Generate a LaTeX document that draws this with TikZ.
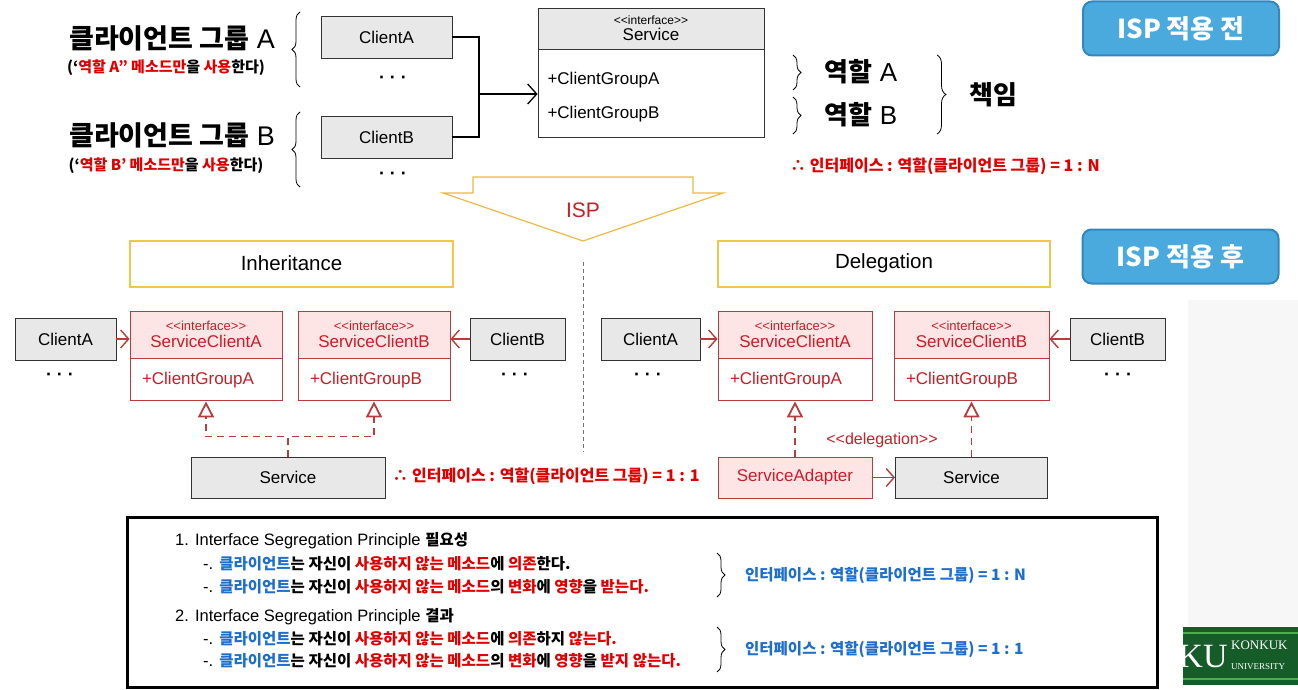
\documentclass[tikz,border=0pt]{standalone}
\usepackage{fontspec}
\setmainfont{Liberation Sans}
\newfontfamily\krfont{Noto Sans CJK KR}
\newfontfamily\logofont{Liberation Serif}
\usepackage{xcolor}
\usetikzlibrary{arrows.meta,positioning,calc,decorations.pathreplacing}

\definecolor{boxgray}{RGB}{232,232,232}
\definecolor{umlred}{RGB}{185,60,60}
\definecolor{umlpink}{RGB}{253,229,229}
\definecolor{umltext}{RGB}{200,30,40}
\definecolor{krred}{RGB}{225,0,0}
\definecolor{krblue}{RGB}{30,110,205}
\definecolor{titleyel}{RGB}{240,200,70}
\definecolor{arrowyel}{RGB}{235,185,70}
\definecolor{tagblue}{RGB}{74,170,222}
\definecolor{tagedge}{RGB}{50,135,190}
\definecolor{kugreen}{RGB}{22,92,40}

\newcommand\fsz[1]{\fontsize{#1}{#1}\selectfont}
\newcommand\kor[1]{{\krfont\bfseries #1}}
\newcommand\rd[1]{\textcolor{krred}{#1}}
\newcommand\bl[1]{\textcolor{krblue}{#1}}
\newcommand\stereo[1]{<{}<#1>{}>}

\tikzset{
    client/.style={draw=black!80, fill=boxgray, minimum height=42, line width=0.9, font=\fsz{17}},
    iface/.style={draw=umlred, fill=umlpink, text=umltext, minimum height=47, inner sep=0, align=center, line width=0.9, font=\fsz{17}},
    ifbody/.style={draw=umlred, fill=white, text=umltext, minimum height=42, inner xsep=12, align=left, line width=0.9, font=\fsz{17}},
    title/.style={draw=titleyel, line width=2, minimum height=46, font=\fsz{20.5}},
    tag/.style={draw=tagedge, fill=tagblue, rounded corners=9, line width=2, text=white, minimum width=196, minimum height=54, font=\krfont\bfseries\fsz{26}},
    dots/.style={font=\bfseries\fsz{18}},
    assoc/.style={draw=umlred, line width=1.4, -{Straight Barb[length=8pt,width=18pt]}},
    realize/.style={draw=umlred, line width=1.8, dash pattern=on 7pt off 5pt, -{Triangle[open,length=16pt,width=16pt,fill=white]}},
    brc/.style={decorate, decoration={brace, amplitude=8pt}, line width=0.8},
    line/.style={anchor=west, inner sep=0, font=\fsz{16.5}},
}

\begin{document}
\begin{tikzpicture}[x=1pt, y=-1pt]
    \useasboundingbox (0,0) rectangle (1298,690);
    % faint background
    \fill[black!3] (1188,300) rectangle (1298,626);

    % ---- before ISP ----
    \node[font=\fsz{27}] (grpA) at (172,38) {\kor{클라이언트 그룹} A};
    \node[font=\fsz{15}] (noteA) at (166,68) {\kor{(‘\rd{역할 A”} \rd{메소드만}을 \rd{사용}한다)}};
    \node[font=\fsz{27}] (grpB) at (172,135) {\kor{클라이언트 그룹} B};
    \node[font=\fsz{15}] (noteB) at (166,166) {\kor{(‘\rd{역할 B’} \rd{메소드만}을 \rd{사용}한다)}};
    \draw[brc] (300,87) -- (300,12);
    \draw[brc] (300,187) -- (300,112);

    \node[client, minimum width=131] (cliA) at (386.5,37) {ClientA};
    \node[dots] at (393,80) {· · ·};
    \node[client, minimum width=131] (cliB) at (386.5,137) {ClientB};
    \node[dots] at (393,176) {· · ·};

    \node[draw=black!80, fill=boxgray, minimum width=226, minimum height=41, inner sep=0, align=center, line width=0.9] (svHead) at (651,28.5)
        {{\fsz{12}\stereo{interface}}\\[3pt]{\fsz{17}Service}};
    \node[draw=black!80, fill=white, minimum width=226, minimum height=88, line width=0.9, below=0pt of svHead] (svBody) {};
    \node[anchor=west, font=\fsz{17}] (svOpA) at (544,80) {+ClientGroupA};
    \node[anchor=west, font=\fsz{17}] (svOpB) at (544,114) {+ClientGroupB};

    \coordinate (jn) at (479,94);
    \draw[line width=1.3] (cliA.east) -| (jn);
    \draw[line width=1.3] (cliB.east) -| (jn);
    \draw[line width=1.3, -{Straight Barb[length=9pt,width=20pt]}] (jn) -- (jn -| svBody.west);

    \draw[brc] (793,55) -- (793,90);
    \draw[brc] (793,97) -- (793,134);
    \draw[brc, decoration={brace, amplitude=9pt}] (937,55) -- (937,134);
    \node[font=\fsz{26}] (roleA) at (861,72) {\kor{역할} A};
    \node[font=\fsz{26}] (roleB) at (861,115) {\kor{역할} B};
    \node[font=\fsz{26}] (duty) at (993,95) {\kor{책임}};
    \node[font=\fsz{16}] (ratioN) at (945,166) {\kor{\rd{∴ 인터페이스 : 역할(클라이언트 그룹) = 1 : N}}};

    \node[tag] (tagBefore) at (1181,28.5) {ISP 적용 전};

    % ---- ISP arrow ----
    \draw[arrowyel, line width=1.2, fill=white] (473,177) -- (693,177) -- (693,193) -- (723,193) -- (583,241)
        -- (443,193) -- (473,193) -- cycle;
    \node[text=umltext, font=\fsz{21}] (isp) at (583,210) {ISP};

    \node[tag] (tagAfter) at (1180.5,256.5) {ISP 적용 후};

    \node[title, minimum width=323] (inhT) at (291.5,263.5) {Inheritance};
    \node[title, minimum width=332] (delT) at (884,263.5) {Delegation};
    \draw[black!55, line width=1, dash pattern=on 4pt off 3pt] (583,262) -- (583,452);

    % ---- inheritance ----
    \node[client, minimum width=101] (cliA1) at (65.5,339) {ClientA};
    \node[dots] at (60,377) {· · ·};
    \node[iface, minimum width=152] (ifA1) at (206,334.5) {{\fsz{13}\stereo{interface}}\\ServiceClientA};
    \node[ifbody, minimum width=152, text width=128, below=0pt of ifA1] (ifA1b) {+ClientGroupA};
    \node[iface, minimum width=152] (ifB1) at (374,334.5) {{\fsz{13}\stereo{interface}}\\ServiceClientB};
    \node[ifbody, minimum width=152, text width=128, below=0pt of ifB1] (ifB1b) {+ClientGroupB};
    \node[client, minimum width=95] (cliB1) at (517.5,339) {ClientB};
    \node[dots] at (515,377) {· · ·};
    \node[client, minimum width=194, minimum height=41] (svc1) at (288,477.5) {Service};

    \draw[assoc] (cliA1.east) -- (cliA1.east -| ifA1.west);
    \draw[assoc] (cliB1.west) -- (cliB1.west -| ifB1.east);
    \draw[realize] (svc1.north) -- ++(0,-20) -| (ifA1b.south);
    \draw[realize] (svc1.north) -- ++(0,-20) -| (ifB1b.south);
    \node[font=\fsz{16}] (ratio1) at (546,476) {\kor{\rd{∴ 인터페이스 : 역할(클라이언트 그룹) = 1 : 1}}};

    % ---- delegation ----
    \node[client, minimum width=99] (cliA2) at (650.5,339) {ClientA};
    \node[dots] at (648,377) {· · ·};
    \node[iface, minimum width=154] (ifA2) at (795,334.5) {{\fsz{13}\stereo{interface}}\\ServiceClientA};
    \node[ifbody, minimum width=154, text width=130, below=0pt of ifA2] (ifA2b) {+ClientGroupA};
    \node[iface, minimum width=155] (ifB2) at (971.5,334.5) {{\fsz{13}\stereo{interface}}\\ServiceClientB};
    \node[ifbody, minimum width=155, text width=131, below=0pt of ifB2] (ifB2b) {+ClientGroupB};
    \node[client, minimum width=95] (cliB2) at (1117.5,339) {ClientB};
    \node[dots] at (1118,377) {· · ·};
    \node[client, draw=umlred, fill=umlpink, text=umltext, minimum width=154, minimum height=41] (adp) at (795,477.5) {ServiceAdapter};
    \node[client, minimum width=152, minimum height=41] (svc2) at (971.5,477.5) {Service};

    \draw[assoc] (cliA2.east) -- (cliA2.east -| ifA2.west);
    \draw[assoc] (cliB2.west) -- (cliB2.west -| ifB2.east);
    \draw[assoc] (adp.east) -- (svc2.west);
    \draw[realize] (adp.north) -- (ifA2b.south);
    \draw[realize] (svc2.north) -- (svc2.north |- ifB2b.south);
    \node[text=umltext, font=\fsz{16}] (dlg) at (882,440) {\stereo{delegation}};

    % ---- summary ----
    \node[draw, line width=3, minimum width=1030, minimum height=170] (sumBox) at (642,602.5) {};
    \node[line] (need) at (175,541) {1. Interface Segregation Principle \kor{\fsz{15.5}필요성}};
    \node[line] (needA) at (203,564) {-. \kor{\fsz{15.5}\bl{클라이언트}는 자신이 \rd{사용하지 않는 메소드}에 \rd{의존}한다.}};
    \node[line] (needB) at (203,587) {-. \kor{\fsz{15.5}\bl{클라이언트}는 자신이 \rd{사용하지 않는 메소드}의 \rd{변화}에 \rd{영향}을 \rd{받는다.}}};
    \node[line] (res) at (175,617) {2. Interface Segregation Principle \kor{\fsz{15.5}결과}};
    \node[line] (resA) at (203,639) {-. \kor{\fsz{15.5}\bl{클라이언트}는 자신이 \rd{사용하지 않는 메소드}에 \rd{의존}하지 \rd{않는다.}}};
    \node[line] (resB) at (203,661) {-. \kor{\fsz{15.5}\bl{클라이언트}는 자신이 \rd{사용하지 않는 메소드}의 \rd{변화}에 \rd{영향}을 \rd{받지 않는다.}}};
    \draw[brc] (717,553) -- (717,597);
    \draw[brc] (717,627) -- (717,672);
    \node[line, font=\fsz{15.5}] (sumN) at (745,576) {\kor{\bl{인터페이스 : 역할(클라이언트 그룹) = 1 : N}}};
    \node[line, font=\fsz{15.5}] (sum1) at (745,650) {\kor{\bl{인터페이스 : 역할(클라이언트 그룹) = 1 : 1}}};

    % logo
    \begin{scope}
        \clip (1183,627) rectangle (1298,685);
        \fill[kugreen] (1183,627) rectangle (1298,685);
        \draw[green!55!black!70, line width=1.5] (1183,633) -- (1298,633) (1183,679) -- (1298,679);
        \node[text=white, font=\logofont\fsz{34}, inner sep=0] (kuMark) at (1203,657) {KU};
        \node[text=white, font=\logofont\fsz{13}, anchor=west, inner sep=0] (kuName) at (1231,645) {KONKUK};
        \node[text=white, font=\logofont\fsz{9}, anchor=west, inner sep=0] (kuUni) at (1231,667) {UNIVERSITY};
    \end{scope}
\end{tikzpicture}
\end{document}
